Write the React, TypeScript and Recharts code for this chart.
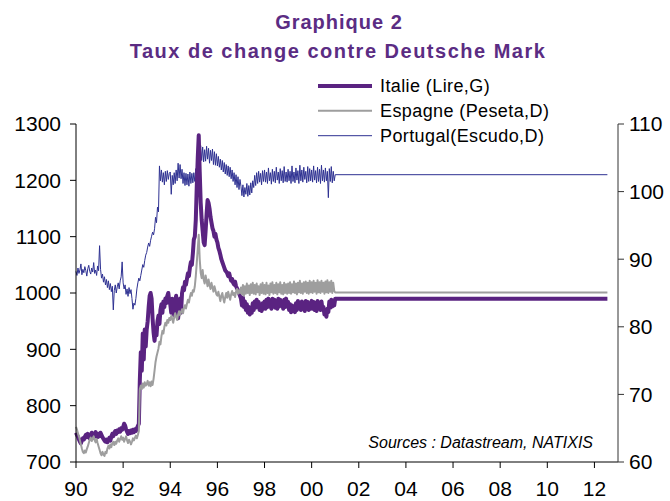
import React from 'react';
import { LineChart, Line, XAxis, YAxis } from 'recharts';

// Semi-monthly observations from 1990.0 to 2001.0 (24 per year)
const START_YEAR = 1990;
const PER_YEAR = 24;
const END_YEAR = 2012.55;

// Italie : lires pour 1 DM (axe gauche)
const italie = [
  752, 748, 745, 740, 736, 733, 738, 742, 740, 745, 748, 744, 750, 746, 742, 748, 752, 747, 743, 749, 753, 748, 744, 750,
  746, 752, 748, 744, 741, 738, 736, 740, 735, 739, 743, 738, 745, 750, 746, 752, 755, 750, 756, 753, 758, 754, 760, 757,
  762, 768, 765, 758, 754, 750, 755, 751, 756, 752, 757, 753, 758, 755, 760, 764, 768, 845, 895, 862, 928, 882, 935, 905,
  935, 950, 975, 995, 1000, 990, 955, 930, 915, 935, 925, 950, 960, 945, 970, 980, 965, 985, 975, 990, 982, 995, 1000, 985,
  980, 965, 990, 975, 960, 985, 995, 970, 955, 975, 990, 965, 1000, 1010, 1005, 1020, 1015, 1025, 1035, 1030, 1045, 1055, 1050, 1070,
  1095, 1100, 1130, 1190, 1240, 1280, 1215, 1160, 1130, 1110, 1090, 1085, 1110, 1140, 1165, 1160, 1150, 1135, 1125, 1115, 1110, 1100, 1105, 1095,
  1090, 1080, 1075, 1068, 1060, 1055, 1050, 1045, 1040, 1038, 1035, 1030, 1035, 1028, 1022, 1025, 1018, 1015, 1020, 1012, 1008, 1005, 1000, 995,
  990, 978, 992, 975, 985, 970, 980, 965, 975, 962, 972, 965, 982, 970, 985, 974, 988, 976, 984, 970, 978, 968, 982, 972,
  985, 972, 988, 975, 990, 976, 986, 972, 990, 978, 988, 974, 984, 972, 990, 976, 988, 978, 985, 972, 988, 975, 990, 976,
  984, 970, 980, 966, 978, 968, 975, 966, 982, 970, 986, 974, 982, 970, 985, 972, 980, 968, 986, 974, 984, 970, 980, 972,
  986, 972, 984, 970, 982, 968, 986, 974, 982, 970, 985, 972, 975, 962, 970, 958, 972, 966, 985, 974, 988, 976, 984, 978,
  990,
];

// Espagne : pesetas pour 1 DM (axe droit)
const espagne = [
  65.2, 64.8, 64.2, 63.8, 63.2, 62.6, 62.0, 61.5, 61.3, 61.7, 61.4, 61.9, 62.3, 62.8, 63.3, 63.6, 63.1, 63.5, 63.8, 63.2, 62.9, 63.4, 62.8, 62.3,
  61.8, 61.3, 61.0, 61.5, 61.1, 60.9, 61.5, 61.3, 62.0, 62.4, 62.0, 62.6, 62.2, 62.8, 63.0, 62.5, 63.0, 62.7, 63.2, 63.5, 63.0, 63.4, 63.8, 63.3,
  63.6, 63.0, 63.4, 63.8, 63.2, 62.8, 63.3, 63.0, 62.6, 63.0, 63.5, 63.2, 63.6, 63.9, 63.5, 64.0, 64.6, 70.8, 71.3, 70.8, 71.6, 71.0, 71.8, 71.3,
  71.5, 72.0, 71.3, 71.8, 71.2, 71.9, 71.4, 72.3, 73.5, 74.8, 75.6, 76.2, 76.8, 77.8, 77.4, 78.6, 79.4, 79.0, 80.0, 80.6, 80.2, 81.0, 80.6, 81.3,
  81.0, 81.6, 81.2, 80.6, 81.4, 82.0, 81.5, 81.0, 81.8, 82.3, 81.7, 82.2, 82.6, 82.0, 82.8, 83.2, 82.7, 83.4, 84.0, 83.6, 84.4, 85.0, 84.6, 85.4,
  85.2, 86.0, 87.5, 89.5, 91.5, 93.6, 90.0, 88.0, 87.2, 88.4, 87.0, 86.4, 87.6, 86.8, 86.0, 87.0, 86.2, 85.6, 86.5, 85.8, 85.2, 86.0, 85.4, 84.8,
  84.6, 85.2, 84.5, 83.8, 84.6, 85.0, 84.2, 83.6, 84.4, 85.0, 84.3, 85.2, 84.6, 84.0, 84.8, 85.3, 84.7, 85.0, 84.4, 85.2, 85.6, 84.9, 85.4, 85.0,
  85.8, 84.8, 86.2, 84.6, 86.0, 84.9, 86.4, 85.0, 86.1, 84.7, 86.3, 85.0, 86.5, 84.9, 86.2, 84.8, 86.4, 85.1, 86.0, 84.7, 86.3, 85.0, 86.5, 84.9,
  86.2, 84.8, 86.5, 85.0, 86.1, 84.7, 86.4, 85.1, 86.6, 84.9, 86.2, 85.0, 86.5, 84.8, 86.3, 85.1, 86.6, 84.9, 86.2, 84.8, 86.5, 85.0, 86.3, 84.9,
  86.4, 85.0, 86.6, 84.9, 86.3, 85.1, 86.7, 85.0, 86.4, 84.8, 86.5, 85.1, 86.8, 85.0, 86.4, 84.9, 86.6, 85.2, 86.7, 85.0, 86.5, 84.9, 86.8, 85.1,
  86.6, 85.0, 86.8, 85.2, 86.5, 84.9, 86.9, 85.1, 86.6, 85.0, 86.8, 85.2, 86.5, 84.9, 86.7, 85.1, 86.9, 85.0, 86.6, 85.2, 86.8, 85.0, 86.5, 85.3,
  85.07,
];

// Portugal : escudos pour 1 DM (axe droit)
const portugal = [
  88.2, 87.6, 88.7, 87.9, 88.4, 89.3, 87.7, 88.5, 88.0, 88.9, 88.3, 87.5, 88.6, 89.1, 88.2, 87.8, 88.7, 88.1, 89.5, 87.9, 88.4, 87.6, 89.0, 88.3,
  92.0, 88.5, 87.2, 87.8, 86.6, 87.4, 86.2, 87.0, 85.8, 86.8, 85.5, 86.4, 85.2, 86.0, 82.5, 85.4, 86.2, 85.0, 85.9, 86.5, 85.6, 86.8, 87.4, 89.6,
  86.5, 85.6, 86.2, 84.8, 85.6, 84.5, 85.8, 84.9, 85.5, 84.2, 82.6, 83.5, 83.2, 84.2, 85.6, 86.5, 87.2, 86.8, 87.6, 88.4, 89.2, 88.8, 89.8, 90.6,
  91.0, 91.8, 92.4, 91.9, 92.8, 93.4, 94.0, 93.6, 94.5, 96.2, 95.4, 97.7, 97.0, 103.8, 101.6, 103.2, 101.4, 102.8, 101.0, 103.0, 101.5, 103.1, 101.8, 102.7,
  102.9, 99.6, 102.4, 101.0, 102.8, 101.2, 103.2, 101.6, 104.2, 102.0, 104.0, 101.9, 103.3, 101.2, 102.8, 100.9, 102.7, 101.0, 102.6, 100.8, 102.9, 101.2, 102.7, 101.3,
  102.8, 101.5, 103.4, 102.4, 105.2, 107.6, 105.2, 106.8, 104.6, 106.6, 104.4, 106.2, 104.5, 106.7, 104.8, 106.4, 104.2, 106.1, 104.6, 106.3, 104.0, 105.9, 103.9, 105.6,
  103.8, 105.2, 103.6, 104.8, 103.2, 104.6, 102.9, 104.3, 102.6, 104.0, 102.4, 103.8, 102.2, 103.6, 101.9, 103.2, 101.5, 102.8, 101.0, 102.5, 100.6, 102.2, 100.3, 101.8,
  100.8, 99.4, 101.0, 99.2, 100.6, 99.6, 101.2, 99.3, 100.9, 99.5, 101.3, 99.8, 101.6, 100.6, 102.4, 100.9, 102.8, 101.2, 103.0, 101.4, 102.7, 101.0, 103.1, 101.5,
  103.2, 101.4, 102.9, 101.2, 103.5, 101.6, 102.8, 101.1, 103.3, 101.5, 103.0, 101.3, 103.6, 101.7, 102.9, 101.2, 103.4, 101.6, 103.1, 101.3, 103.7, 101.5, 102.9, 101.4,
  103.3, 101.6, 103.0, 101.2, 103.8, 101.5, 102.9, 101.3, 103.5, 101.7, 103.1, 101.2, 103.9, 101.6, 103.2, 101.4, 103.6, 101.8, 103.0, 101.3, 103.7, 101.5, 103.4, 101.6,
  103.2, 101.4, 103.8, 101.7, 103.1, 101.3, 103.6, 101.5, 103.3, 101.2, 103.9, 101.6, 103.2, 101.4, 103.5, 101.6, 103.0, 99.1, 103.4, 101.5, 103.7, 101.3, 103.0, 101.6,
  102.5,
];

// Taux de conversion irrévocables (prolongés jusqu'à fin de période)
const finalItalie = 990;
const finalEspagne = 85.07;
const finalPortugal = 102.5;

const xTicks = [1990, 1992, 1994, 1996, 1998, 2000, 2002, 2004, 2006, 2008, 2010, 2012];
const leftTicks = [700, 800, 900, 1000, 1100, 1200, 1300];
const rightTicks = [60, 70, 80, 90, 100, 110];

const series = [
  { key: 'it', name: 'Italie (Lire,G)', color: '#5A2381', width: 4, axis: 'left' },
  { key: 'es', name: 'Espagne (Peseta,D)', color: '#9E9E9E', width: 2, axis: 'right' },
  { key: 'pt', name: 'Portugal(Escudo,D)', color: '#2E3192', width: 1, axis: 'right' },
];

const data = italie.map((v, i) => ({
  t: START_YEAR + i / PER_YEAR,
  it: v,
  es: espagne[i],
  pt: portugal[i],
}));
data.push({ t: END_YEAR, it: finalItalie, es: finalEspagne, pt: finalPortugal });

const FONT = '"Liberation Sans", Arial, Helvetica, sans-serif';
const TITLE_COLOR = '#5B2C83';

const fmtYear = (y: number) => String(y % 100).padStart(2, '0');

export default function App() {
  const drawOrder = ['pt', 'it', 'es'];
  return (
    <div style={{ position: 'absolute', left: 0, top: 0, width: 670, height: 501, background: '#fff', fontFamily: FONT }}>
      <LineChart
        width={670}
        height={501}
        data={data}
        margin={{ top: 124, right: 0, bottom: 0, left: 0 }}
      >
        <XAxis
          dataKey="t"
          type="number"
          domain={[1990, 2013]}
          ticks={xTicks}
          tickFormatter={fmtYear}
          height={39}
          tickSize={6}
          tickMargin={13}
          axisLine={{ stroke: '#000' }}
          tickLine={{ stroke: '#000' }}
          tick={{ fill: '#000', fontSize: 21, fontFamily: FONT }}
          interval={0}
        />
        <YAxis
          yAxisId="left"
          orientation="left"
          domain={[700, 1300]}
          ticks={leftTicks}
          width={76}
          tickSize={6}
          tickMargin={9}
          axisLine={{ stroke: '#000' }}
          tickLine={{ stroke: '#000' }}
          tick={{ fill: '#000', fontSize: 21, fontFamily: FONT }}
          interval={0}
        />
        <YAxis
          yAxisId="right"
          orientation="right"
          domain={[60, 110]}
          ticks={rightTicks}
          width={52}
          tickSize={6}
          tickMargin={5}
          axisLine={{ stroke: '#333' }}
          tickLine={{ stroke: '#333' }}
          tick={{ fill: '#000', fontSize: 21, fontFamily: FONT }}
          interval={0}
        />
        {drawOrder.map((k) => {
          const s = series.find((x) => x.key === k)!;
          return (
            <Line
              key={s.key}
              yAxisId={s.axis}
              type="linear"
              dataKey={s.key}
              name={s.name}
              stroke={s.color}
              strokeWidth={s.width}
              dot={false}
              activeDot={false}
              isAnimationActive={false}
              strokeLinejoin="round"
            />
          );
        })}
      </LineChart>
      <svg
        width={670}
        height={501}
        style={{ position: 'absolute', left: 0, top: 0, pointerEvents: 'none' }}
      >
        <text x={339} y={29} textAnchor="middle" fill={TITLE_COLOR} fontFamily={FONT} fontWeight="bold" fontSize={20} letterSpacing={1}>
          Graphique 2
        </text>
        <text x={338} y={58} textAnchor="middle" fill={TITLE_COLOR} fontFamily={FONT} fontWeight="bold" fontSize={20} letterSpacing={1.5}>
          Taux de change contre Deutsche Mark
        </text>
        {series.map((s, i) => {
          const cy = 86 + i * 24.85;
          return (
            <g key={s.key}>
              <line x1={318} x2={372} y1={cy} y2={cy} stroke={s.color} strokeWidth={s.width} />
              <text x={380} y={cy + 6.3} fill="#000" fontFamily={FONT} fontSize={18} letterSpacing={0.4}>
                {s.name}
              </text>
            </g>
          );
        })}
        <text x={593} y={448} textAnchor="end" fill="#000" fontFamily={FONT} fontStyle="italic" fontSize={16}>
          Sources : Datastream, NATIXIS
        </text>
      </svg>
    </div>
  );
}
